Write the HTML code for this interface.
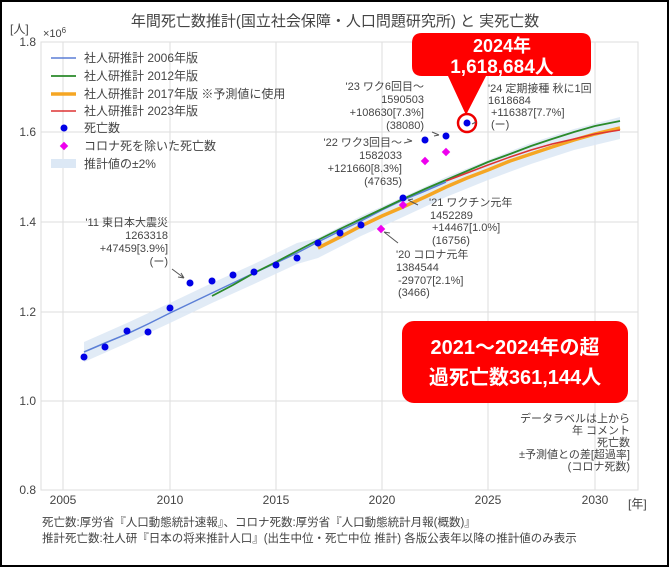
<!DOCTYPE html>
<html><head><meta charset="utf-8"><style>
body{margin:0;background:#fff}
svg{display:block;font-family:"Liberation Sans","Noto Sans CJK JP",sans-serif}
</style></head><body>
<svg width="671" height="568" viewBox="0 0 671 568">
<rect x="1" y="1" width="667" height="565" fill="#fff" stroke="#000" stroke-width="2"/>
<text x="335" y="26" font-size="15" fill="#444" text-anchor="middle">年間死亡数推計(国立社会保障・人口問題研究所) と 実死亡数</text>
<g stroke="#ddd" stroke-width="1">
<line x1="63" y1="42" x2="63" y2="490"/><line x1="170" y1="42" x2="170" y2="490"/>
<line x1="276" y1="42" x2="276" y2="490"/><line x1="382" y1="42" x2="382" y2="490"/>
<line x1="488" y1="42" x2="488" y2="490"/><line x1="595" y1="42" x2="595" y2="490"/>
<line x1="41" y1="132" x2="638" y2="132"/><line x1="41" y1="222" x2="638" y2="222"/>
<line x1="41" y1="312" x2="638" y2="312"/><line x1="41" y1="401" x2="638" y2="401"/>
</g>
<rect x="41" y="42" width="597" height="448" fill="none" stroke="#ddd"/>
<g font-size="12" fill="#444" text-anchor="end">
<text x="36" y="46">1.8</text><text x="36" y="136">1.6</text><text x="36" y="226">1.4</text>
<text x="36" y="316">1.2</text><text x="36" y="405">1.0</text><text x="36" y="494">0.8</text>
</g>
<text x="10" y="33" font-size="12" fill="#444">[人]</text>
<text x="43" y="37" font-size="11" fill="#444">×10<tspan font-size="8" dy="-4">6</tspan></text>
<g font-size="12" fill="#444" text-anchor="middle">
<text x="63" y="504">2005</text><text x="170" y="504">2010</text><text x="276" y="504">2015</text>
<text x="382" y="504">2020</text><text x="488" y="504">2025</text><text x="595" y="504">2030</text>
</g>
<text x="628" y="508" font-size="12" fill="#444">[年]</text>
<!-- band -->
<path d="M84,342 L127,323 L170,303 L212,283 L254,264 L297,243 L318,238 L361,216 L403,197 L446,177 L488,160 L531,143 L574,129 L620,117 L620,139 L574,150 L531,164 L488,180 L446,197 L403,217 L361,236 L318,258 L297,264 L254,284 L212,303 L170,323 L127,343 L84,362 Z" fill="#dce8f5" opacity="0.85"/>
<!-- lines -->
<polyline points="84,352 105,343 127,334 148,324 170,313 191,303 212,293 233,283 254,273 276,263 297,253 318,242 340,231 361,221 382,210 403,200 425,191 446,182" fill="none" stroke="#5b7fd6" stroke-width="1.5"/>
<polyline points="212,296 233,285 254,273 276,262 297,251 318,240 340,229 361,219 382,209 403,199 425,189 446,180 467,171 488,162 510,154 531,146 552,139 574,132 595,126 620,121" fill="none" stroke="#2a8a2a" stroke-width="1.8"/>
<polyline points="318,248 340,237 361,226 382,216 403,207 425,197 446,187 467,178 488,170 510,161 531,154 552,147 574,140 595,134 620,128" fill="none" stroke="#f5a623" stroke-width="3.5"/>
<polyline points="446,181 467,173 488,165 510,157 531,150 552,144 574,139 595,134 620,130" fill="none" stroke="#d33" stroke-width="1.5"/>
<g fill="#0000e6">
<circle cx="84" cy="357" r="3.5"/><circle cx="105" cy="347" r="3.5"/><circle cx="127" cy="331" r="3.5"/>
<circle cx="148" cy="332" r="3.5"/><circle cx="170" cy="308" r="3.5"/><circle cx="190" cy="283" r="3.5"/>
<circle cx="212" cy="281" r="3.5"/><circle cx="233" cy="275" r="3.5"/><circle cx="254" cy="272" r="3.5"/>
<circle cx="276" cy="265" r="3.5"/><circle cx="297" cy="258" r="3.5"/><circle cx="318" cy="243" r="3.5"/>
<circle cx="340" cy="233" r="3.5"/><circle cx="361" cy="225" r="3.5"/>
<circle cx="403" cy="198" r="3.5"/><circle cx="425" cy="140" r="3.5"/><circle cx="446" cy="136" r="3.5"/>
<circle cx="467" cy="123" r="3.5"/>
</g>
<g fill="#ee00ee">
<rect x="378" y="226" width="6" height="6" transform="rotate(45 381 229)"/>
<rect x="400" y="202" width="6" height="6" transform="rotate(45 403 205)"/>
<rect x="422" y="158" width="6" height="6" transform="rotate(45 425 161)"/>
<rect x="443" y="149" width="6" height="6" transform="rotate(45 446 152)"/>
</g>
<circle cx="467" cy="123" r="9" fill="none" stroke="#e00" stroke-width="2.5"/>
<g font-size="12" fill="#444">
<line x1="51" y1="58" x2="76" y2="58" stroke="#5b7fd6" stroke-width="1.5"/><text x="84" y="62">社人研推計 2006年版</text>
<line x1="51" y1="76" x2="76" y2="76" stroke="#2a8a2a" stroke-width="1.8"/><text x="84" y="80">社人研推計 2012年版</text>
<line x1="51" y1="94" x2="76" y2="94" stroke="#f5a623" stroke-width="3.5"/><text x="84" y="98">社人研推計 2017年版 ※予測値に使用</text>
<line x1="51" y1="111" x2="76" y2="111" stroke="#d33" stroke-width="1.5"/><text x="84" y="115">社人研推計 2023年版</text>
<circle cx="64" cy="128" r="3.5" fill="#0000e6"/><text x="84" y="132">死亡数</text>
<rect x="61" y="143" width="6" height="6" fill="#ee00ee" transform="rotate(45 64 146)"/><text x="84" y="150">コロナ死を除いた死亡数</text>
<rect x="51" y="159" width="25" height="9" fill="#dce8f5"/><text x="84" y="168">推計値の±2%</text>
</g>
<g font-size="11" fill="#444" text-anchor="end">
<text x="168" y="226">'11 東日本大震災</text><text x="168" y="239">1263318</text>
<text x="168" y="252">+47459[3.9%]</text><text x="168" y="265">(ー)</text>
<text x="402" y="146">'22 ワク3回目～</text><text x="402" y="159">1582033</text>
<text x="402" y="172">+121660[8.3%]</text><text x="402" y="185">(47635)</text>
<text x="424" y="90">'23 ワク6回目～</text><text x="424" y="103">1590503</text>
<text x="424" y="116">+108630[7.3%]</text><text x="424" y="129">(38080)</text>
</g>
<g font-size="11" fill="#444">
<text x="488" y="92">'24 定期接種 秋に1回</text><text x="488" y="104">1618684</text>
<text x="491" y="116">+116387[7.7%]</text><text x="491" y="128">(ー)</text>
<text x="429" y="206">'21 ワクチン元年</text><text x="430" y="219">1452289</text>
<text x="432" y="231">+14467[1.0%]</text><text x="432" y="244">(16756)</text>
<text x="396" y="258">'20 コロナ元年</text><text x="396" y="271">1384544</text>
<text x="398" y="284">-29707[2.1%]</text><text x="398" y="296">(3466)</text>
</g>
<g stroke="#555" stroke-width="1" fill="none">
<path d="M172,269 L184,278 M184,278 L178,277 M184,278 L181,273"/>
<path d="M404,143 L412,141 M412,141 L407,139"/>
<path d="M432,132 L439,135 M439,135 L434,136"/>
<path d="M384,232 L398,243 M384,232 L390,233"/>
<path d="M408,200 L418,205 M408,200 L413,199"/>
<path d="M472,124 L476,122"/>
</g>
<g font-size="11" fill="#444" text-anchor="end">
<text x="630" y="422">データラベルは上から</text><text x="630" y="434">年 コメント</text>
<text x="630" y="446">死亡数</text><text x="630" y="458">±予測値との差[超過率]</text>
<text x="630" y="470">(コロナ死数)</text>
</g>
<path d="M422,33 H581 Q591,33 591,43 V66 Q591,76 581,76 H486 L466,115 L448,76 H422 Q412,76 412,66 V43 Q412,33 422,33 Z" fill="#f00"/>
<text x="502" y="52" font-size="18" font-weight="bold" fill="#fff" text-anchor="middle">2024年</text>
<text x="502" y="73" font-size="19" font-weight="bold" fill="#fff" text-anchor="middle">1,618,684人</text>
<rect x="402" y="321" width="226" height="82" rx="12" fill="#f00"/>
<text x="515" y="354" font-size="20" font-weight="bold" fill="#fff" text-anchor="middle">2021～2024年の超</text>
<text x="515" y="384" font-size="20" font-weight="bold" fill="#fff" text-anchor="middle">過死亡数361,144人</text>
<g font-size="11.5" fill="#444">
<text x="42" y="526">死亡数:厚労省『人口動態統計速報』、コロナ死数:厚労省『人口動態統計月報(概数)』</text>
<text x="42" y="542">推計死亡数:社人研『日本の将来推計人口』(出生中位・死亡中位 推計) 各版公表年以降の推計値のみ表示</text>
</g>
</svg>
</body></html>
